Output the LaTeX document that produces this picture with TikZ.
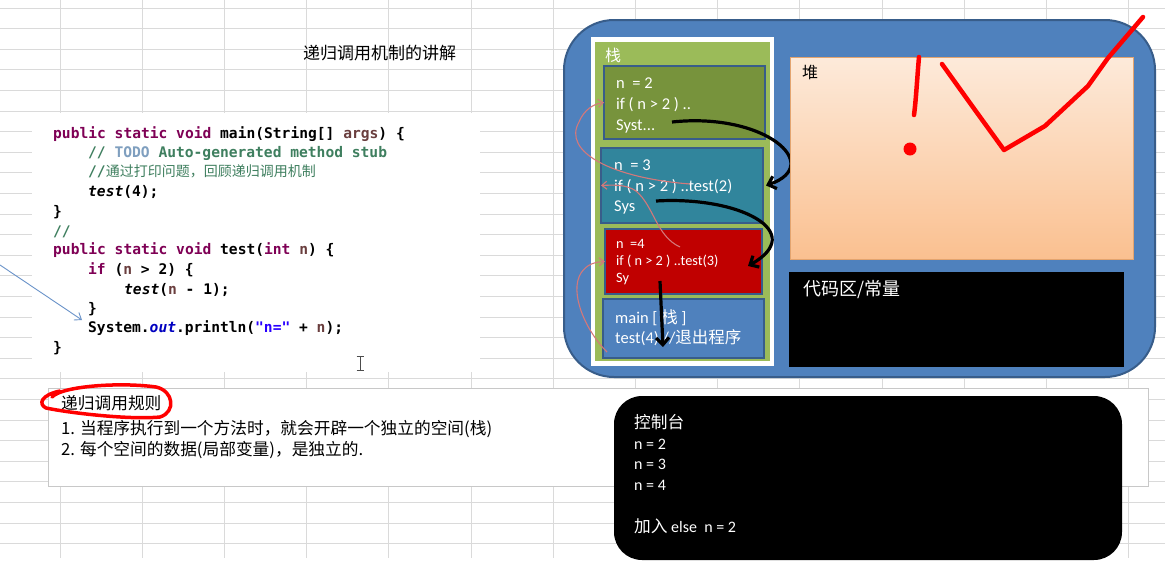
\documentclass[tikz,border=0pt]{standalone}
\usepackage{fontspec}
\setmainfont{Carlito}
\setmonofont{DejaVu Sans Mono}
\newfontfamily\cjkf{Noto Sans CJK SC}
\usetikzlibrary{arrows.meta}
\definecolor{gridc}{HTML}{DADADA}
\definecolor{memblue}{HTML}{4F81BD}
\definecolor{memborder}{HTML}{385D8A}
\definecolor{stackgreen}{HTML}{9BBB59}
\definecolor{ftwo}{HTML}{77933C}
\definecolor{fthree}{HTML}{31859C}
\definecolor{ffour}{HTML}{C00000}
\definecolor{heaptop}{HTML}{FDEADA}
\definecolor{heapbot}{HTML}{FAC090}
\definecolor{heapborder}{HTML}{E3A46F}
\definecolor{kwc}{HTML}{7F0055}
\definecolor{cmc}{HTML}{3F7F5F}
\definecolor{tdc}{HTML}{7F9FBF}
\definecolor{varc}{HTML}{6A3E3E}
\definecolor{outc}{HTML}{0000C0}
\definecolor{strc}{HTML}{2A00FF}
\definecolor{pinkc}{HTML}{D4787A}
\definecolor{bluearrow}{HTML}{6A93C9}
\definecolor{redc}{HTML}{FF0000}
\definecolor{rulesborder}{HTML}{C8C8C8}
\newcommand\kwt[1]{\textcolor{kwc}{#1}}
\newcommand\cmt[1]{\textcolor{cmc}{#1}}
\newcommand\tdt[1]{\textcolor{tdc}{#1}}
\newcommand\vart[1]{\textcolor{varc}{#1}}
\newcommand\outt[1]{\textcolor{outc}{#1}}
\newcommand\strt[1]{\textcolor{strc}{#1}}
\tikzset{
  code/.style={anchor=base west, inner sep=0pt, font=\ttfamily\bfseries\fontsize{14.6}{16}\selectfont},
  wt/.style={anchor=base west, inner sep=0pt, text=white, font=\fontsize{16.5}{18}\selectfont},
  wtsmall/.style={anchor=base west, inner sep=0pt, text=white, font=\fontsize{14.3}{16}\selectfont},
  wtbig/.style={anchor=base west, inner sep=0pt, text=white, font=\fontsize{16.5}{18}\selectfont},
  wtcon/.style={anchor=base west, inner sep=0pt, text=white, font=\fontsize{16}{18}\selectfont},
  cjktext/.style={anchor=base west, inner sep=0pt, font=\cjkf\fontsize{16.7}{19}\selectfont},
  box/.style={anchor=north west, inner sep=0pt, outer sep=0pt},
  framebox/.style={box, draw=memborder, line width=2.5pt},
  pinkarrow/.style={draw=pinkc, line width=1.1pt, -{Straight Barb[length=5pt,width=8pt]}},
  blackarrow/.style={draw=black, line width=3.2pt, -{Straight Barb[length=7pt,width=13pt]}},
  redpen/.style={draw=redc, line width=4.5pt, line cap=round, line join=round},
}
\begin{document}
\begin{tikzpicture}[x=1pt,y=-1pt]
\useasboundingbox (0,0) rectangle (1165,579);
\fill[white] (0,0) rectangle (1165,579);
% spreadsheet grid
\foreach \k in {0,...,26} \draw[gridc, line width=0.8pt] (0,8+20.6*\k) -- (1165,8+20.6*\k);
\foreach \k in {0,...,13} \draw[gridc, line width=0.8pt] (60+82.2*\k,0) -- (60+82.2*\k,558);

% code screenshot
\node[box, fill=white, minimum width=448pt, minimum height=259pt] (codeimg) at (32,113) {};
\node[code] (c1) at (53,138.5) {\kwt{public static void} main(String[] \vart{args}) \{};
\node[code] (c2) at (88,157.5) {\cmt{// }\tdt{TODO} \cmt{Auto-generated method stub}};
\node[code] (c3) at (88,176.5) {\cmt{//{\cjkf\mdseries\fontsize{14}{16}\selectfont 通过打印问题，回顾递归调用机制}}};
\node[code] (c4) at (88,196.5) {\textit{test}(4);};
\node[code] (c5) at (53,216.5) {\}};
\node[code] (c6) at (53,236.5) {\cmt{//}};
\node[code] (c7) at (53,254.5) {\kwt{public static void} test(\kwt{int} \vart{n}) \{};
\node[code] (c8) at (88,274.5) {\kwt{if} (\vart{n} > 2) \{};
\node[code] (c9) at (124,294.5) {\textit{test}(\vart{n} - 1);};
\node[code] (c10) at (88,313.5) {\}};
\node[code] (c11) at (88,332.5) {System.\textit{\outt{out}}.println(\strt{"n="} + \vart{n});};
\node[code] (c12) at (53,352.5) {\}};
% text cursor
\draw[black!70, line width=0.8pt] (360,356) -- (360,370) (356.5,356) -- (363.5,356) (356.5,370) -- (363.5,370);
% blue pointer arrow
\coordinate (bl0) at (0,265);
\coordinate (bl1) at (82,320);
\draw[bluearrow, line width=0.9pt, -{Straight Barb[length=6pt,width=9pt]}] (bl0) -- (bl1);

% title
\node[anchor=base west, inner sep=0pt, font=\cjkf\fontsize{17}{20}\selectfont] (title) at (303,59.5) {递归调用机制的讲解};

% rules box
\node[box, fill=white, draw=rulesborder, line width=1pt, minimum width=1100pt, minimum height=98pt] (rules) at (48,388) {};
\node[cjktext] (rh) at (61,409.5) {递归调用规则};
\node[cjktext] (r1) at (61,434.5) {1. 当程序执行到一个方法时，就会开辟一个独立的空间(栈)};
\node[cjktext] (r2) at (61,455) {2. 每个空间的数据(局部变量)，是独立的.};
\draw[redpen, line width=3.5pt] (52,397) .. controls (62,386) and (120,382) .. (156,387) .. controls (174,391) and (176,412) .. (160,417) .. controls (130,420) and (70,413) .. (46,408) .. controls (38,404) and (41,395) .. (60,391);

% memory panel
\node[box, fill=memblue, draw=memborder, line width=2pt, rounded corners=50pt, minimum width=591pt, minimum height=357pt] (mem) at (564,20) {};
\node[box, fill=white, minimum width=183pt, minimum height=329pt] (stackframe) at (591,37) {};
\node[box, fill=stackgreen, minimum width=175pt, minimum height=319pt] (stack) at (595,42) {};
\node[anchor=base west, inner sep=0pt, text=white, font=\cjkf\fontsize{16}{18}\selectfont] (stacklbl) at (605,61) {栈};

\node[framebox, fill=ftwo, minimum width=161pt, minimum height=73pt] (f2) at (604,66) {};
\node[framebox, fill=fthree, minimum width=162pt, minimum height=75pt] (f3) at (601,148) {};
\node[framebox, fill=ffour, minimum width=157pt, minimum height=65pt] (f4) at (605,229) {};
\node[framebox, fill=memblue, minimum width=161pt, minimum height=59pt] (fm) at (603,299) {};

\node[wt] (t21) at (616,88.5) {n\ \ = 2};
\node[wt] (t22) at (616,109.5) {if ( n > 2 ) ..};
\node[wt] (t23) at (616,130.5) {Syst...};
\node[wt] (t31) at (614,170.5) {n\ \ = 3};
\node[wt] (t32) at (614,191.5) {if ( n > 2 ) ..test(2)};
\node[wt] (t33) at (614,211.5) {Sys};
\node[wtsmall] (t41) at (616,248) {n\ \ =4};
\node[wtsmall] (t42) at (616,265) {if ( n > 2 ) ..test(3)};
\node[wtsmall] (t43) at (616,282) {Sy};
\node[wtbig] (tm1) at (615,323) {main [ {\cjkf 栈} ]};
\node[wtbig] (tm2) at (615,343) {test(4) //{\cjkf 退出程序}};

% return arrows (pink)
\coordinate (pa) at (690,184);
\coordinate (pb) at (680,247);
\coordinate (pc) at (607,352);
\draw[pinkarrow] (pa) .. controls (612,178) and (562,152) .. (579,122) .. controls (584,110) and (593,104) .. (f2.west);
\draw[pinkarrow] (pb) .. controls (656,236) and (654,206) .. (636,191) .. controls (626,184) and (612,185) .. (f3.west);
\draw[pinkarrow] (pc) .. controls (585,330) and (569,292) .. (581,273) .. controls (587,264) and (595,262) .. (f4.west);

% call arrows (black)
\coordinate (a1s) at (672,122);
\coordinate (a2s) at (656,201);
\coordinate (a2e) at (748,266);
\coordinate (a3s) at (660,281);
\coordinate (a3e) at (663,347);
\draw[blackarrow] (a1s) .. controls (765,112) and (825,165) .. ([xshift=3pt]f3.east);
\draw[blackarrow] (a2s) .. controls (740,196) and (808,232) .. (a2e);
\draw[blackarrow] (a3s) -- (a3e);

% heap and code area
\node[box, top color=heaptop, bottom color=heapbot, draw=heapborder, line width=1pt, minimum width=343pt, minimum height=202pt] (heap) at (790,57) {};
\node[anchor=base west, inner sep=0pt, font=\cjkf\fontsize{16}{18}\selectfont] (heaplbl) at (802,78) {堆};
\node[box, fill=black, minimum width=335pt, minimum height=95pt] (codearea) at (789,272) {};
\node[anchor=base west, inner sep=0pt, text=white, font=\cjkf\fontsize{18}{20}\selectfont] (codelbl) at (803,295) {代码区/常量};

% red pen marks
\draw[redpen] (919,57) .. controls (917,80) and (916,100) .. (914,115);
\fill[redc] (910,149) circle (6.5);
\draw[redpen] (942,64) -- (975,110) -- (1004,150) -- (1045,126) -- (1088,86) -- (1108,58) -- (1143,17);

% console
\node[box, fill=black, rounded corners=28pt, minimum width=508pt, minimum height=164pt] (console) at (614,396) {};
\node[anchor=base west, inner sep=0pt, text=white, font=\cjkf\fontsize{16.7}{19}\selectfont] (k0) at (634,428.5) {控制台};
\node[wtcon] (k1) at (634,449.5) {n = 2};
\node[wtcon] (k2) at (634,469.5) {n = 3};
\node[wtcon] (k3) at (634,490.5) {n = 4};
\node[wtcon] (k4) at (634,532) {{\cjkf\fontsize{16.7}{19}\selectfont 加入} else\ \ n = 2};
\end{tikzpicture}
\end{document}
